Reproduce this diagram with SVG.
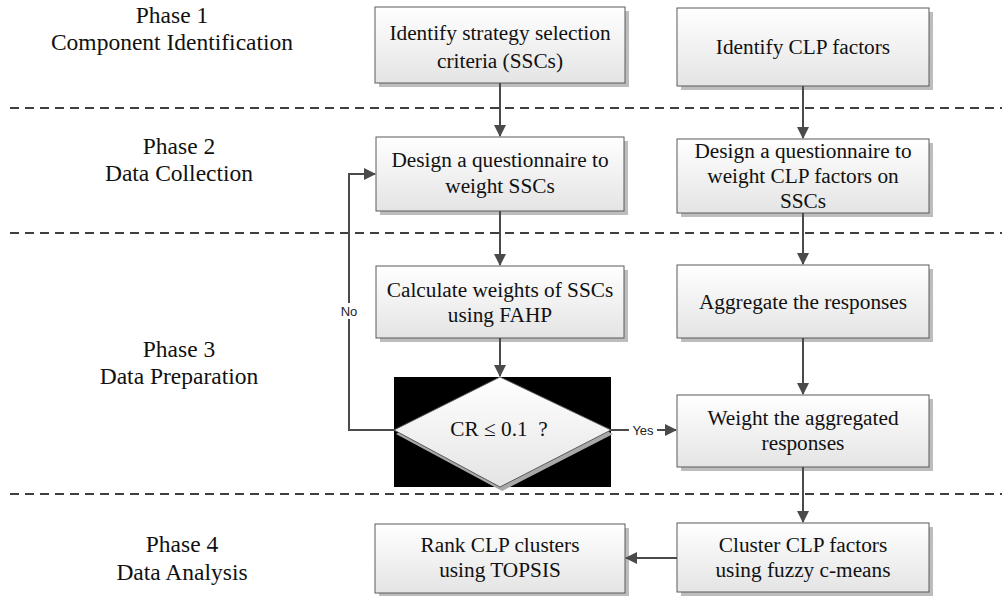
<svg xmlns="http://www.w3.org/2000/svg" width="1002" height="596" viewBox="0 0 1002 596">
<style>
.phase{font-family:"Liberation Serif","Times New Roman",serif;font-size:23.5px;fill:#111;text-anchor:middle}
.bt{font-family:"Liberation Serif","Times New Roman",serif;font-size:21.3px;fill:#111;text-anchor:middle}
.box{fill:url(#g);stroke:#5a5a5a;stroke-width:1}
.sh{fill:#bdbdbd}
.dash{stroke:#000;stroke-width:1.6;stroke-dasharray:9 6;fill:none}
.con{stroke:#4a4a4a;stroke-width:2;fill:none}
.lbl{font-family:"Liberation Sans",Arial,sans-serif;font-size:13px;fill:#222;text-anchor:middle}
</style>
<defs>
<linearGradient id="g" x1="0" y1="0" x2="0" y2="1">
<stop offset="0" stop-color="#ffffff"/>
<stop offset="1" stop-color="#e4e4e4"/>
</linearGradient>
<marker id="arr" markerWidth="12" markerHeight="12" refX="11" refY="6" orient="auto" markerUnits="userSpaceOnUse">
<path d="M0,0 L12,6 L0,12 Z" fill="#4a4a4a"/>
</marker>
</defs>
<rect width="1002" height="596" fill="#fff"/>

<g id="phases">
<text class="phase" x="172" y="23">Phase 1</text>
<text class="phase" x="172" y="50">Component Identification</text>
<text class="phase" x="179" y="154">Phase 2</text>
<text class="phase" x="179" y="181">Data Collection</text>
<text class="phase" x="179" y="357">Phase 3</text>
<text class="phase" x="179" y="384">Data Preparation</text>
<text class="phase" x="182" y="552">Phase 4</text>
<text class="phase" x="182" y="580">Data Analysis</text>
</g>

<g id="separators">
<line class="dash" x1="10" y1="108" x2="1002" y2="108"/>
<line class="dash" x1="10" y1="233" x2="1002" y2="233"/>
<line class="dash" x1="10" y1="494" x2="1002" y2="494"/>
</g>

<g id="n1">
<rect class="sh" x="379" y="11" width="250" height="76"/>
<rect class="box" x="375" y="7" width="250" height="76"/>
<text class="bt" x="500" y="40">Identify strategy selection</text>
<text class="bt" x="500" y="68">criteria (SSCs)</text>
</g>
<g id="n2">
<rect class="sh" x="681" y="12" width="252" height="78"/>
<rect class="box" x="677" y="8" width="252" height="78"/>
<text class="bt" x="803" y="54">Identify CLP factors</text>
</g>
<g id="n3">
<rect class="sh" x="380" y="141" width="248" height="74"/>
<rect class="box" x="376" y="137" width="248" height="74"/>
<text class="bt" x="500" y="167">Design a questionnaire to</text>
<text class="bt" x="500" y="193">weight SSCs</text>
</g>
<g id="n4">
<rect class="sh" x="681" y="143" width="252" height="74"/>
<rect class="box" x="677" y="139" width="252" height="74"/>
<text class="bt" x="803" y="158">Design a questionnaire to</text>
<text class="bt" x="803" y="183">weight CLP factors on</text>
<text class="bt" x="803" y="208">SSCs</text>
</g>
<g id="n5">
<rect class="sh" x="380" y="270" width="248" height="72"/>
<rect class="box" x="376" y="266" width="248" height="72"/>
<text class="bt" x="500" y="297">Calculate weights of SSCs</text>
<text class="bt" x="500" y="322">using FAHP</text>
</g>
<g id="n6">
<rect class="sh" x="681" y="269" width="252" height="73"/>
<rect class="box" x="677" y="265" width="252" height="73"/>
<text class="bt" x="803" y="309">Aggregate the responses</text>
</g>
<g id="n7">
<rect x="394" y="377" width="217" height="110" fill="#000"/>
<polygon points="502,381 613,434 502,491 396,434" fill="#a8a8a8"/>
<polygon class="box" points="500,377 611,430 500,487 394,430"/>
<text class="bt" x="499" y="436">CR ≤ 0.1&#160;&#160;?</text>
</g>
<g id="n8">
<rect class="sh" x="681" y="399" width="252" height="72"/>
<rect class="box" x="677" y="395" width="252" height="72"/>
<text class="bt" x="803" y="425">Weight the aggregated</text>
<text class="bt" x="803" y="450">responses</text>
</g>
<g id="n9">
<rect class="sh" x="681" y="527" width="252" height="69"/>
<rect class="box" x="677" y="523" width="252" height="69"/>
<text class="bt" x="803" y="552">Cluster CLP factors</text>
<text class="bt" x="803" y="577">using fuzzy c-means</text>
</g>
<g id="n10">
<rect class="sh" x="379" y="528" width="250" height="69"/>
<rect class="box" x="375" y="524" width="250" height="69"/>
<text class="bt" x="500" y="552">Rank CLP clusters</text>
<text class="bt" x="500" y="577">using TOPSIS</text>
</g>

<g id="connectors">
<line class="con" x1="500" y1="83" x2="500" y2="136" marker-end="url(#arr)"/>
<line class="con" x1="803" y1="86" x2="803" y2="138" marker-end="url(#arr)"/>
<line class="con" x1="500" y1="211" x2="500" y2="265" marker-end="url(#arr)"/>
<line class="con" x1="803" y1="213" x2="803" y2="264" marker-end="url(#arr)"/>
<line class="con" x1="500" y1="338" x2="500" y2="376" marker-end="url(#arr)"/>
<line class="con" x1="803" y1="338" x2="803" y2="394" marker-end="url(#arr)"/>
<line class="con" x1="803" y1="467" x2="803" y2="522" marker-end="url(#arr)"/>
<line class="con" x1="677" y1="558" x2="626" y2="558" marker-end="url(#arr)"/>
<line class="con" x1="611" y1="430" x2="676" y2="430" marker-end="url(#arr)"/>
<polyline class="con" points="394,430 349,430 349,174 375,174" marker-end="url(#arr)"/>
<rect x="629" y="423" width="28" height="15" fill="#fff"/>
<text class="lbl" x="643" y="435">Yes</text>
<rect x="338" y="303" width="22" height="16" fill="#fff"/>
<text class="lbl" x="349" y="316">No</text>
</g>
</svg>
